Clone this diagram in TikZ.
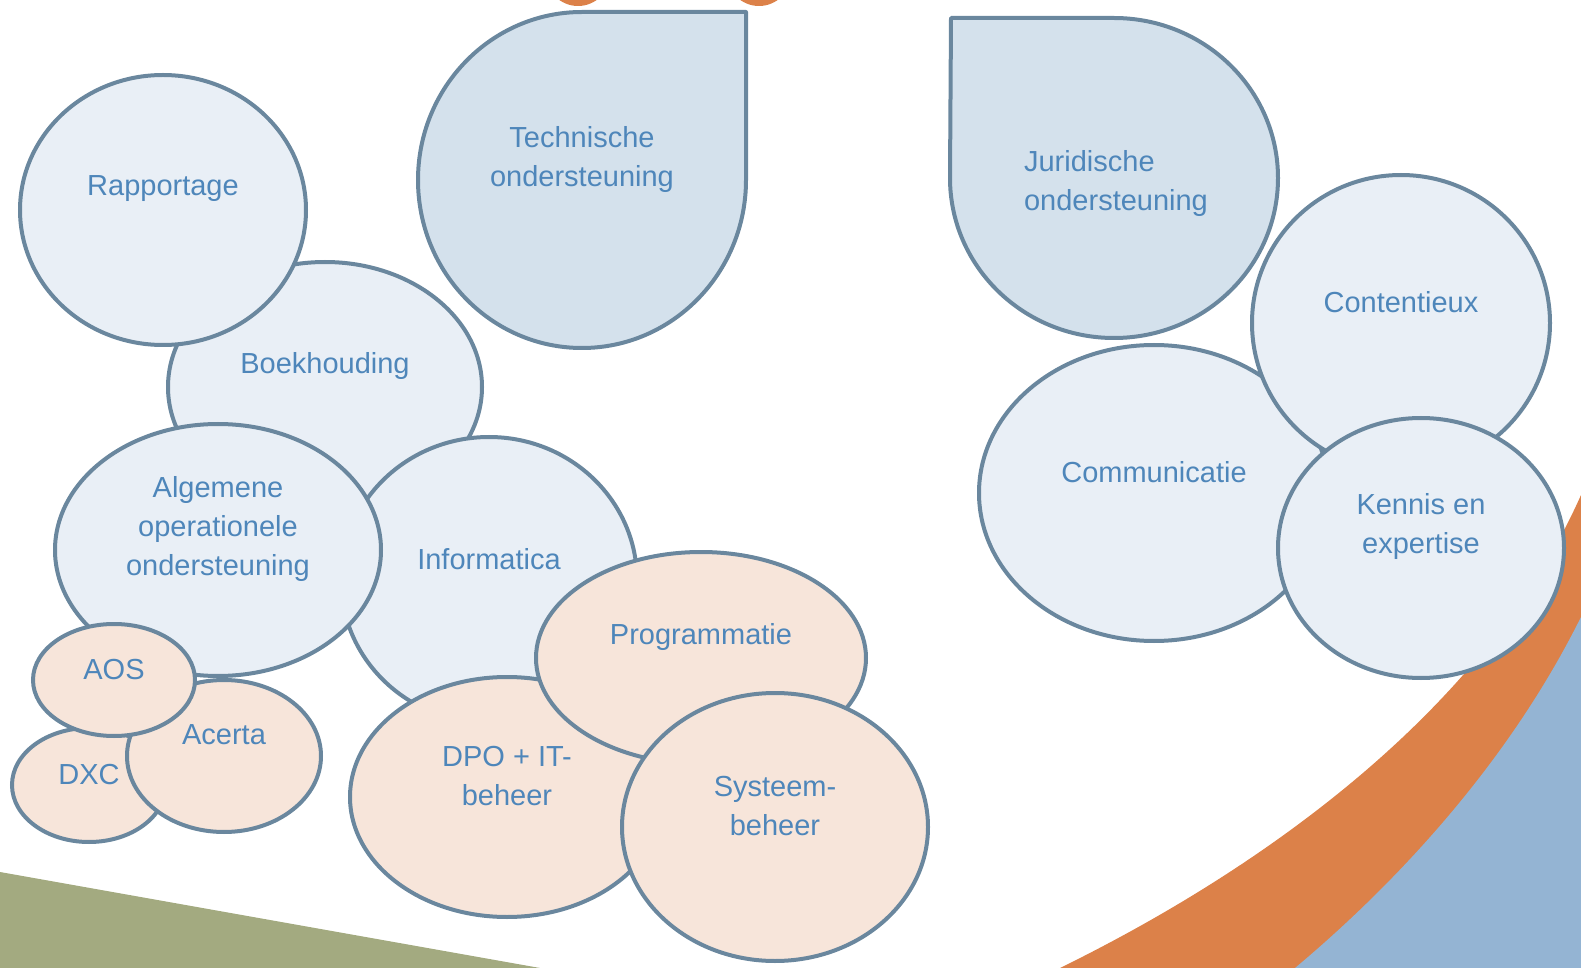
\documentclass[tikz,border=0pt]{standalone}
\usepackage{fontspec}
\setmainfont{Liberation Sans}
\usepackage{tikz}
\usetikzlibrary{shapes.geometric}
\definecolor{edge}{RGB}{106,135,158}
\definecolor{pale}{RGB}{233,239,246}
\definecolor{dropfill}{RGB}{212,225,236}
\definecolor{peachfill}{RGB}{247,229,218}
\definecolor{txtblue}{RGB}{78,134,186}
\definecolor{grass}{RGB}{163,170,128}
\definecolor{orng}{RGB}{220,129,73}
\definecolor{skyb}{RGB}{148,180,211}

\begin{document}
\begin{tikzpicture}[
   x=0.5pt,y=-0.5pt,
   font=\fontsize{14.5}{19.5}\selectfont,
   bub/.style={ellipse,draw=edge,line width=2pt,inner sep=0pt,fill=pale},
   peach/.style={bub,fill=peachfill},
   sz/.style 2 args={minimum width=#1pt,minimum height=#2pt},
   drop/.style={draw=edge,line width=2pt,fill=dropfill,line join=round},
   txt/.style={text=txtblue,align=center},
   every label/.style={txt,yshift=10.5pt}]
\useasboundingbox (0,0) rectangle (1581,968);
\clip (0,0) rectangle (1581,968);
% background
\fill[grass] (0,872) -- (540,968) -- (0,968) -- cycle;
\fill[orng] (1060,968) .. controls (1280,860) and (1490,700) .. (1581,495) -- (1581,968) -- cycle;
\fill[skyb] (1295,968) .. controls (1400,880) and (1510,760) .. (1581,617) -- (1581,968) -- cycle;
\fill[orng] (578,-26) circle[radius=32] (759,-26) circle[radius=32];
% left group
\node[bub,sz={157}{125},label={center:Boekhouding}] (boek) at (325,387) {};
\node[bub,sz={143}{135},label={center:Rapportage}] (rap) at (163,210) {};
\node[bub,sz={148}{143},label={center:Informatica}] (inf) at (489,580) {};
\node[bub,sz={163}{126},label={center:{Algemene\\operationele\\ondersteuning}}] (alg) at (218,550) {};
\node[peach,sz={77}{57},label={[yshift=-5.5pt]center:DXC}] (dxc) at (89,785) {};
\node[peach,sz={97}{76},label={center:Acerta}] (acerta) at (224,756) {};
\node[peach,sz={81}{56},label={[yshift=-5.5pt]center:AOS}] (aos) at (114,680) {};
\node[peach,sz={157}{120},label={center:{DPO + IT-\\beheer}}] (dpo) at (507,797) {};
\node[peach,sz={165}{106},label={center:Programmatie}] (prog) at (701,658) {};
\node[peach,sz={153}{134},label={center:{Systeem-\\beheer}}] (sys) at (775,827) {};
% support shapes
\draw[drop] (746,12) -- (746,180) arc[start angle=0,end angle=270,x radius=164,y radius=168] -- cycle;
\node[txt] (tech) at (582,160) {Technische\\ondersteuning};
\draw[drop] (951,18) -- (1114,18) arc[start angle=270,end angle=540,x radius=164,y radius=160] -- cycle;
\node[txt,align=left] (jur) at (1116,184) {Juridische\\ondersteuning};
% right group
\node[bub,sz={175}{148},label={center:Communicatie}] (comm) at (1154,493) {};
\node[bub,sz={149}{148},label={center:Contentieux}] (cont) at (1401,323) {};
\node[bub,sz={143}{130},label={center:{Kennis en\\expertise}}] (kennis) at (1421,548) {};
\end{tikzpicture}
\end{document}
